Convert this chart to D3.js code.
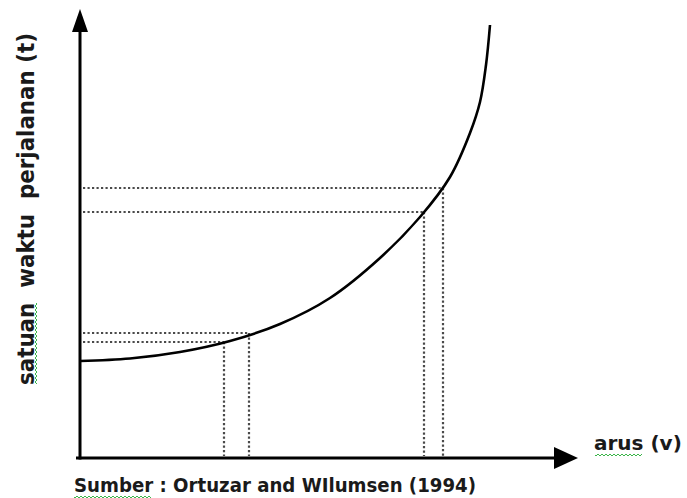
<!DOCTYPE html>
<html>
<head>
<meta charset="utf-8">
<script src="https://cdn.jsdelivr.net/npm/d3@7"></script>
<style>
  html, body { margin: 0; padding: 0; background: #fff; }
  svg { display: block; }
  text { font-family: "DejaVu Sans", sans-serif; font-weight: bold; fill: #1a1a1a; }
</style>
</head>
<body>
<script>
// Curve: travel time (t) vs flow (v), in abstract units
const curveFlow = [0, 50, 100, 150, 200, 250, 300, 340, 370, 390, 400, 406, 410];
const curveTime = [97, 99.5, 106, 117, 134, 160, 200, 241, 281, 325, 356, 393, 433];
// Guide points (dotted projections)
const guideFlow = [144, 169, 344, 363];
const guideTime = [116, 125, 246, 270];
const labels = {
  y: "satuan\u00a0\u00a0waktu\u00a0\u00a0perjalanan (t)",
  x: "arus (v)",
  source: "Sumber : Ortuzar and WIlumsen (1994)"
};

const W = 687, H = 498;
const svg = d3.select("body").append("svg").attr("width", W).attr("height", H);

const x = d3.scaleLinear().domain([0, 500]).range([80, 580]);
const y = d3.scaleLinear().domain([0, 450]).range([458, 8]);

// dotted guides
const guides = guideFlow.map((f, i) => ({ f, t: guideTime[i] }));
const g = svg.append("g").attr("stroke", "#4a4a4a").attr("stroke-width", 2.2)
  .attr("stroke-dasharray", "2.2,2.3").attr("fill", "none");
guides.forEach(d => {
  g.append("line").attr("x1", x(0) + 3).attr("x2", x(d.f)).attr("y1", y(d.t)).attr("y2", y(d.t));
  g.append("line").attr("x1", x(d.f)).attr("x2", x(d.f)).attr("y1", y(d.t)).attr("y2", y(0) - 2);
});

// curve
const pts = curveFlow.map((f, i) => [f, curveTime[i]]);
svg.append("path").datum(pts)
  .attr("d", d3.line().x(d => x(d[0])).y(d => y(d[1])).curve(d3.curveCatmullRom.alpha(0.5)))
  .attr("fill", "none").attr("stroke", "#000").attr("stroke-width", 2.6);

// axes
svg.append("line").attr("x1", x(0)).attr("x2", x(0)).attr("y1", y(0) + 1.5).attr("y2", 30)
  .attr("stroke", "#000").attr("stroke-width", 3);
svg.append("path").attr("d", `M${x(0)},9 L${x(0) - 8},32 L${x(0) + 8},32 Z`).attr("fill", "#000");
svg.append("line").attr("x1", 76).attr("x2", 556).attr("y1", y(0)).attr("y2", y(0))
  .attr("stroke", "#000").attr("stroke-width", 3);
svg.append("path").attr("d", `M578,${y(0)} L554,${y(0) - 11} L554,${y(0) + 11} Z`).attr("fill", "#000");

// labels
svg.append("text").attr("transform", "translate(34,209) rotate(-90)")
  .attr("text-anchor", "middle").attr("font-size", 23)
  .attr("textLength", 352).attr("lengthAdjust", "spacingAndGlyphs")
  .text(labels.y);
svg.append("text").attr("x", 594).attr("y", 450).attr("font-size", 20)
  .text(labels.x);
svg.append("text").attr("x", 74).attr("y", 492).attr("font-size", 20)
  .attr("textLength", 402).attr("lengthAdjust", "spacingAndGlyphs")
  .text(labels.source);

// spell-check squiggles
const sq = svg.append("g").attr("stroke", "#3bb54a").attr("stroke-width", 1).attr("fill", "none");
function wavyH(x0, x1, yy) {
  let d = `M${x0},${yy}`;
  for (let xx = x0; xx < x1; xx += 2) d += ` L${xx + 1},${yy + ((xx - x0) / 2 % 2 ? -1 : 1)}`;
  sq.append("path").attr("d", d);
}
function wavyV(y0, y1, xx) {
  let d = `M${xx},${y0}`;
  for (let yy = y0; yy < y1; yy += 2) d += ` L${xx + ((yy - y0) / 2 % 2 ? -1 : 1)},${yy + 1}`;
  sq.append("path").attr("d", d);
}
wavyV(303, 385, 36);
wavyH(595, 642, 455);
wavyH(74, 151, 497);
</script>
</body>
</html>
